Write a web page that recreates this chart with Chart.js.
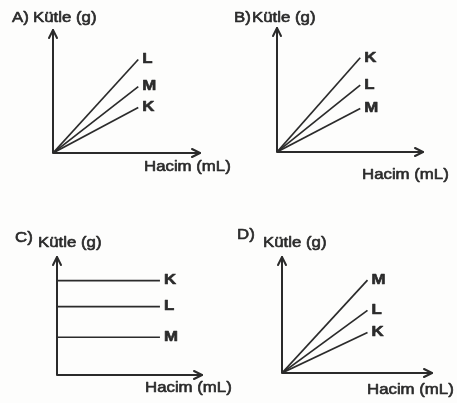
<!DOCTYPE html>
<html>
<head>
<meta charset="utf-8">
<script src="https://cdn.jsdelivr.net/npm/chart.js@4.4.0/dist/chart.umd.min.js"></script>
<style>
  html, body { margin: 0; padding: 0; background: #fdfdfc; }
  #wrap { position: relative; width: 457px; height: 403px; overflow: hidden; }
  #wrap canvas { position: absolute; }
</style>
</head>
<body>
<div id="wrap">
  <canvas id="chart-a"></canvas>
  <canvas id="chart-b"></canvas>
  <canvas id="chart-c"></canvas>
  <canvas id="chart-d"></canvas>
</div>
<script>
// ── data (arbitrary units, axes run 0..10) ──
const panelLetters = ['A)', 'B)', 'C)', 'D)'];
const yTitle = 'Kütle (g)';
const xTitle = 'Hacim (mL)';

const namesA = ['L', 'M', 'K'];
const massA  = [7.6, 5.4, 3.7];
const namesB = ['K', 'L', 'M'];
const massB  = [7.6, 5.4, 3.5];
const namesC = ['K', 'L', 'M'];
const massC  = [8.0, 5.8, 3.2];
const namesD = ['M', 'L', 'K'];
const massD  = [8.0, 5.4, 3.5];

const lineVolume = [5.8, 5.7, 7.1, 5.7];
const flatMass   = [false, false, true, false];   // C: mass does not change with volume

// ── layout (page pixels) ──
const INK = '#2b2b2b';
const FONT = '14px "Liberation Sans", Arial, sans-serif';
const LABEL_FONT = 'bold 14px "Liberation Sans", Arial, sans-serif';
const STRETCH = 1.2;   // the scan is wider than it is tall

const layout = [
  { id: 'chart-a', box: [0, 0, 240, 200],   area: [53, 30, 200, 153],   head: [12, 18, 33, 18],   hacim: [144, 167] },
  { id: 'chart-b', box: [228, 0, 229, 200], area: [277, 28, 423, 152],  head: [234, 18, 252, 18], hacim: [362, 175] },
  { id: 'chart-c', box: [0, 200, 240, 203], area: [57, 257, 202, 375],  head: [15, 238, 38, 243], hacim: [145, 388] },
  { id: 'chart-d', box: [228, 200, 229, 203], area: [282, 257, 432, 373], head: [237, 235, 263, 243], hacim: [367, 390] },
];

function stretchedText(ctx, s, x, y) {
  ctx.save();
  ctx.translate(x, y);
  ctx.scale(STRETCH, 1);
  ctx.fillText(s, 0, 0);
  ctx.lineWidth = 0.6;
  ctx.strokeText(s, 0, 0);   // a little heavier, like the printed scan
  ctx.restore();
}

function arrowHead(ctx, x, y, dir) {
  const len = 8, half = 4;
  ctx.beginPath();
  if (dir === 'up') {
    ctx.moveTo(x - half, y + len); ctx.lineTo(x, y); ctx.lineTo(x + half, y + len);
  } else {
    ctx.moveTo(x - len, y - half); ctx.lineTo(x, y); ctx.lineTo(x - len, y + half);
  }
  ctx.stroke();
}

// axes with arrows, titles and line labels
const sketchPlugin = {
  id: 'sketch',
  afterDatasetsDraw(chart, args, opts) {
    const { ctx, chartArea: a } = chart;
    const L = opts.layout, ox = L.box[0], oy = L.box[1];
    ctx.save();
    ctx.strokeStyle = INK;
    ctx.fillStyle = INK;
    ctx.lineWidth = 2;
    ctx.lineCap = 'round';
    ctx.lineJoin = 'round';

    // axes
    ctx.beginPath();
    ctx.moveTo(a.left, a.top);
    ctx.lineTo(a.left, a.bottom);
    ctx.lineTo(a.right, a.bottom);
    ctx.stroke();
    arrowHead(ctx, a.left, a.top, 'up');
    arrowHead(ctx, a.right, a.bottom, 'right');

    // texts
    ctx.font = FONT;
    ctx.textBaseline = 'middle';
    ctx.textAlign = 'left';
    stretchedText(ctx, opts.letter, L.head[0] - ox, L.head[1] - oy);
    stretchedText(ctx, yTitle, L.head[2] - ox, L.head[3] - oy);
    stretchedText(ctx, xTitle, L.hacim[0] - ox, L.hacim[1] - oy);

    ctx.font = LABEL_FONT;
    chart.data.datasets.forEach((ds, i) => {
      const pts = chart.getDatasetMeta(i).data;
      const end = pts[pts.length - 1];
      stretchedText(ctx, ds.label, end.x + 4, end.y);
    });
    ctx.restore();
  }
};

function buildPanel(idx, names, mass) {
  const L = layout[idx];
  const cv = document.getElementById(L.id);
  cv.width = L.box[2];
  cv.height = L.box[3];
  cv.style.left = L.box[0] + 'px';
  cv.style.top = L.box[1] + 'px';

  const vol = lineVolume[idx];
  const datasets = names.map((n, i) => ({
    label: n,
    data: flatMass[idx]
      ? [{ x: 0, y: mass[i] }, { x: vol, y: mass[i] }]
      : [{ x: 0, y: 0 }, { x: vol, y: mass[i] }],
    borderColor: INK,
    borderWidth: 1.7,
    pointRadius: 0,
    fill: false,
    tension: 0,
  }));

  return new Chart(cv, {
    type: 'line',
    data: { datasets },
    options: {
      responsive: false,
      animation: false,
      layout: {
        padding: {
          left: L.area[0] - L.box[0],
          top: L.area[1] - L.box[1],
          right: L.box[0] + L.box[2] - L.area[2],
          bottom: L.box[1] + L.box[3] - L.area[3],
        }
      },
      plugins: {
        legend: { display: false },
        tooltip: { enabled: false },
        sketch: { layout: L, letter: panelLetters[idx] },
      },
      scales: {
        x: { type: 'linear', display: false, min: 0, max: 10 },
        y: { type: 'linear', display: false, min: 0, max: 10 },
      }
    },
    plugins: [sketchPlugin]
  });
}

buildPanel(0, namesA, massA);
buildPanel(1, namesB, massB);
buildPanel(2, namesC, massC);
buildPanel(3, namesD, massD);
</script>
</body>
</html>
